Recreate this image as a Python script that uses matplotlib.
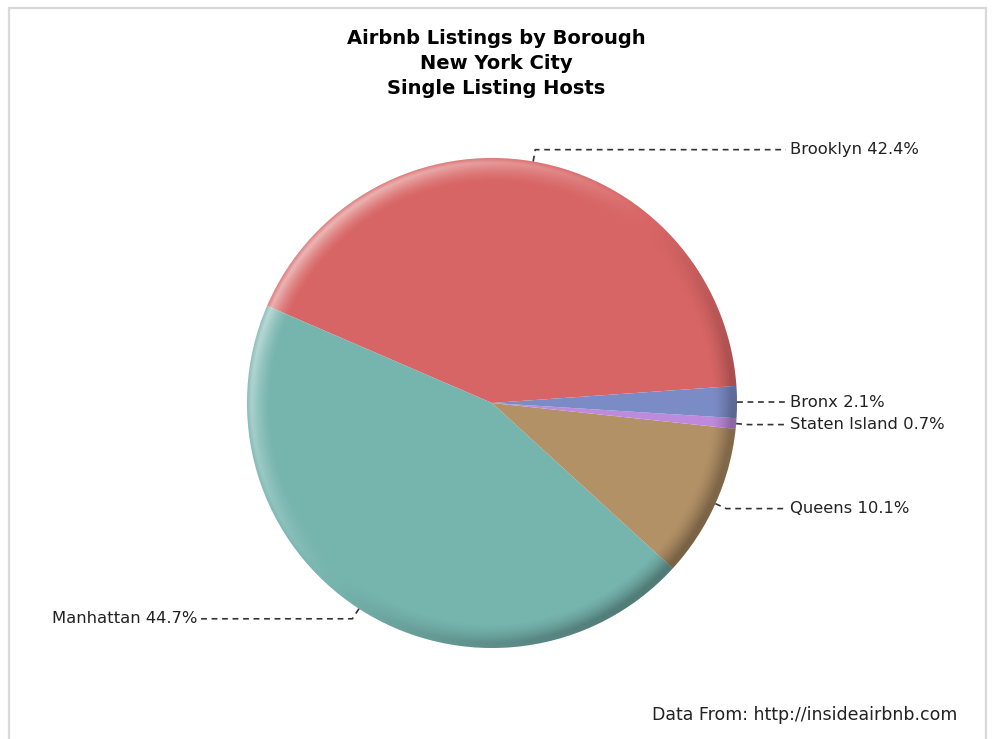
#!/usr/bin/env python3
import numpy as np
import matplotlib
matplotlib.use('Agg')
import matplotlib.pyplot as plt
from matplotlib.patches import Circle, Rectangle

boroughs = ['Brooklyn', 'Manhattan', 'Queens', 'Staten Island', 'Bronx']
shares = [42.4, 44.7, 10.1, 0.7, 2.1]
colors = ['#D86565', '#76B4AE', '#B39166', '#BE8ADC', '#7B8BC5']

title_lines = ['Airbnb Listings by Borough', 'New York City', 'Single Listing Hosts']
footnote = 'Data From: http://insideairbnb.com'

W, H = 999, 739
cx, cy, R = 492, H - 403, 245

fig = plt.figure(figsize=(W / 100, H / 100), dpi=100)
ax = fig.add_axes([0, 0, 1, 1])

# outer frame
ax.add_patch(Rectangle((9, -10), 977, H - 8 + 10, fill=False, edgecolor='#D9D9D9', lw=1.6))

wedges, _ = ax.pie(shares, colors=colors, startangle=4, counterclock=True,
                   center=(cx, cy), radius=R, frame=True,
                   wedgeprops={'linewidth': 0})
ax.set_xlim(0, W)
ax.set_ylim(0, H)
ax.set_aspect('equal')
ax.axis('off')

# 3d-ish rim lighting, light coming from upper left
n = 600
xs = np.linspace(cx - R, cx + R, n)
ys = np.linspace(cy - R, cy + R, n)
X, Y = np.meshgrid(xs, ys)
dx, dy = X - cx, Y - cy
dist = np.hypot(dx, dy) + 1e-9
r = dist / R
rim = np.clip((r - 0.9) / 0.08, 0, 1) ** 1.5
fade = 1 - np.clip((r - 0.985) / 0.015, 0, 1) * 0.6
d = (-0.75 * dx + 0.66 * dy) / dist
rgba = np.zeros((n, n, 4))
light = d > 0
rgba[light, :3] = 1.0
alpha = np.where(light, rim * fade * d * 0.5, rim * (-d) * 0.32)
rgba[..., 3] = np.clip(alpha, 0, 1)
img = ax.imshow(rgba, extent=(cx - R, cx + R, cy - R, cy + R), origin='lower',
                interpolation='bilinear', zorder=3)
img.set_clip_path(Circle((cx, cy), R, transform=ax.transData))

# leader lines and labels
for w, name, pct in zip(wedges, boroughs, shares):
    mid = np.deg2rad((w.theta1 + w.theta2) / 2)
    ax0, ay0 = cx + R * np.cos(mid), cy + R * np.sin(mid)
    ex, ey = cx + (R + 12) * np.cos(mid), cy + (R + 12) * np.sin(mid)
    right = np.cos(mid) > 0
    endx = 786 if right else 200
    line, = ax.plot([ax0, ex, endx], [ay0, ey, ey], color='#333333', lw=1.2, zorder=4)
    line.set_dashes((3.5, 2.8))
    ax.text(endx + 4 if right else endx - 3, ey, f'{name} {pct}%',
            ha='left' if right else 'right', va='center',
            fontsize=11.8, color='#222222', family='DejaVu Sans')

for i, t in enumerate(title_lines):
    ax.text(496, H - 38 - i * 25.5, t, ha='center', va='center',
            fontsize=14, fontweight='bold', color='black', family='DejaVu Sans')

ax.text(957, H - 715, footnote, ha='right', va='center', fontsize=12.5,
        color='#222222', family='DejaVu Sans')

fig.savefig('out.png', dpi=100)
